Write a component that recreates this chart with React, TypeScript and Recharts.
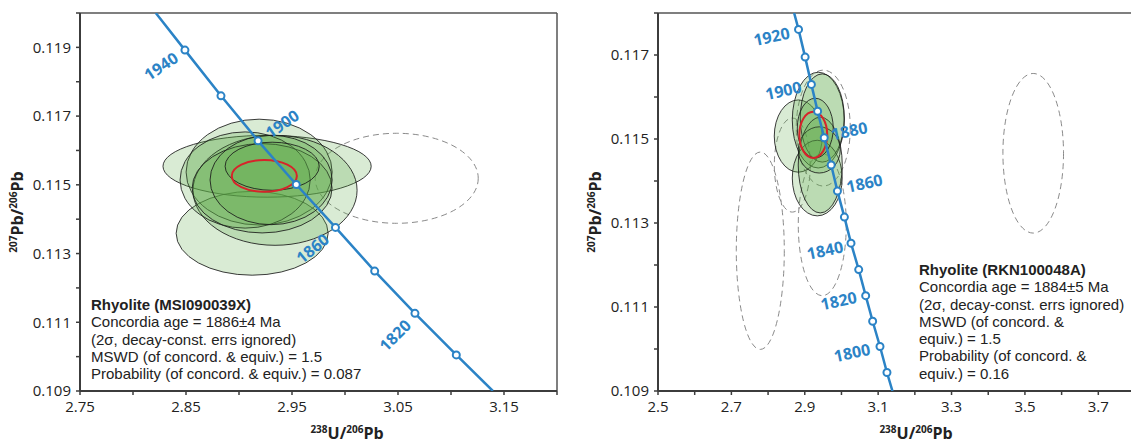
import React from "react";
import * as Recharts from "recharts";

const { ScatterChart, Scatter, XAxis, YAxis, ReferenceLine } = Recharts;
const usePlotArea = (Recharts as any).usePlotArea;

// concordia ages and their positions (238U/206Pb, 207Pb/206Pb)
const leftAges = [1940, 1920, 1900, 1880, 1860, 1840, 1820, 1800];
const leftConcX = [2.849, 2.883, 2.918, 2.954, 2.991, 3.028, 3.066, 3.105];
const leftConcY = [0.11892, 0.11759, 0.11628, 0.11501, 0.11376, 0.11249, 0.11126, 0.11005];
const leftLineEnds = [{ x: 2.8215, y: 0.12 }, { x: 3.1395, y: 0.109 }];

const rightAges = [1920, 1910, 1900, 1890, 1880, 1870, 1860, 1850, 1840, 1830, 1820, 1810, 1800, 1790];
const rightConcX = [2.883, 2.901, 2.918, 2.935, 2.953, 2.972, 2.989, 3.008, 3.026, 3.047, 3.066, 3.085, 3.105, 3.124];
const rightConcY = [0.11761, 0.11695, 0.1163, 0.11566, 0.11503, 0.11438, 0.11376, 0.11314, 0.11252, 0.11189, 0.11127, 0.11066, 0.11006, 0.10944];
const rightLineEnds = [{ x: 2.871, y: 0.118 }, { x: 3.139, y: 0.109 }];

// 2-sigma error ellipses: centre and half-axes in data units
const leftEllipses = [
  { x: 2.9124, y: 0.11359, rx: 0.0717, ry: 0.00122 },
  { x: 2.9265, y: 0.11554, rx: 0.0982, ry: 0.0009 },
  { x: 2.919, y: 0.11537, rx: 0.0689, ry: 0.00154 },
  { x: 2.934, y: 0.11484, rx: 0.0774, ry: 0.0016 },
  { x: 2.9058, y: 0.11514, rx: 0.0614, ry: 0.0014 },
  { x: 2.9218, y: 0.1149, rx: 0.066, ry: 0.0013 },
  { x: 2.9303, y: 0.11514, rx: 0.0576, ry: 0.0013 },
  { x: 2.9313, y: 0.11554, rx: 0.0444, ry: 0.0007 },
];
const leftRejected = [{ x: 3.0488, y: 0.11519, rx: 0.0769, ry: 0.00131 }];
const leftConcordiaAge = [{ x: 2.9239, y: 0.11526, rx: 0.0307, ry: 0.00046 }];

const rightEllipses = [
  { x: 2.8823, y: 0.11507, rx: 0.0654, ry: 0.00086 },
  { x: 2.9368, y: 0.11545, rx: 0.0708, ry: 0.00114 },
  { x: 2.9477, y: 0.1155, rx: 0.06, ry: 0.00105 },
  { x: 2.934, y: 0.11407, rx: 0.068, ry: 0.0009 },
  { x: 2.9422, y: 0.11438, rx: 0.06, ry: 0.00114 },
  { x: 2.9395, y: 0.11474, rx: 0.0572, ry: 0.00055 },
  { x: 2.9286, y: 0.11526, rx: 0.049, ry: 0.00071 },
];
const rightRejected = [
  { x: 2.7788, y: 0.11234, rx: 0.0654, ry: 0.00235 },
  { x: 2.9477, y: 0.11296, rx: 0.0654, ry: 0.00169 },
  { x: 3.5226, y: 0.11466, rx: 0.0826, ry: 0.0019 },
  { x: 2.9504, y: 0.11526, rx: 0.0736, ry: 0.00138 },
  { x: 2.866, y: 0.11438, rx: 0.049, ry: 0.00112 },
];
const rightConcordiaAge = [{ x: 2.9232, y: 0.1151, rx: 0.038, ry: 0.00055 }];

// axes
const leftXDomain = [2.75, 3.2];
const leftYDomain = [0.109, 0.12];
const leftXTicks = [2.75, 2.8, 2.85, 2.9, 2.95, 3.0, 3.05, 3.1, 3.15, 3.2];
const leftXLabels = [2.75, 2.85, 2.95, 3.05, 3.15];
const leftYTicks = [0.109, 0.11, 0.111, 0.112, 0.113, 0.114, 0.115, 0.116, 0.117, 0.118, 0.119, 0.12];
const leftYLabels = [0.109, 0.111, 0.113, 0.115, 0.117, 0.119];

const rightXDomain = [2.5, 3.8];
const rightYDomain = [0.109, 0.118];
const rightXTicks = [2.5, 2.6, 2.7, 2.8, 2.9, 3.0, 3.1, 3.2, 3.3, 3.4, 3.5, 3.6, 3.7, 3.8];
const rightXLabels = [2.5, 2.7, 2.9, 3.1, 3.3, 3.5, 3.7];
const rightYTicks = [0.109, 0.11, 0.111, 0.112, 0.113, 0.114, 0.115, 0.116, 0.117, 0.118];
const rightYLabels = [0.109, 0.111, 0.113, 0.115, 0.117];

const leftNotes = [
  "Concordia age = 1886±4 Ma",
  "(2σ, decay-const. errs ignored)",
  "MSWD (of concord. & equiv.) = 1.5",
  "Probability (of concord. & equiv.) = 0.087",
];
const rightNotes = [
  "Concordia age = 1884±5 Ma",
  "(2σ, decay-const. errs ignored)",
  "MSWD (of concord. &",
  "equiv.) = 1.5",
  "Probability (of concord. &",
  "equiv.) = 0.16",
];

const BLUE = "#2b83c6";
const INK = "#222";
const FONT = '"Open Sans", "Noto Sans", sans-serif';
const NOTE_FONT = '"Liberation Sans", Arial, sans-serif';

// where each age label sits relative to its marker (pixels, degrees)
const leftLabelPos: Record<number, { dx: number; dy: number; angle: number }> = {
  1940: { dx: -24, dy: 16, angle: -34 },
  1900: { dx: 24, dy: -17, angle: -35 },
  1860: { dx: -23, dy: 21, angle: -39 },
  1820: { dx: -20, dy: 22, angle: -45 },
};
const rightLabelPos: Record<number, { dx: number; dy: number; angle: number }> = {
  1920: { dx: -27, dy: 7, angle: -12 },
  1900: { dx: -28, dy: 6, angle: -12 },
  1880: { dx: 25, dy: -7, angle: -12 },
  1860: { dx: 27, dy: -8, angle: -12 },
  1840: { dx: -26, dy: 7, angle: -12 },
  1820: { dx: -27, dy: 5, angle: -12 },
  1800: { dx: -28, dy: 6, angle: -12 },
};

function EllipseShape(props: any) {
  const area = usePlotArea ? usePlotArea() : undefined;
  const { cx, cy, payload, xSpan, ySpan, kind } = props;
  if (!area || cx == null || cy == null) return null;
  const rx = (payload.rx / xSpan) * area.width;
  const ry = (payload.ry / ySpan) * area.height;
  if (kind === "dashed") {
    return <ellipse cx={cx} cy={cy} rx={rx} ry={ry} fill="none" stroke="#8a8a8a" strokeWidth={1} strokeDasharray="6 4" />;
  }
  if (kind === "age") {
    return <ellipse cx={cx} cy={cy} rx={rx} ry={ry} fill="none" stroke="#d7232a" strokeWidth={2} />;
  }
  return <ellipse cx={cx} cy={cy} rx={rx} ry={ry} fill="#5aaa46" fillOpacity={0.23} stroke="#1a1a1a" strokeOpacity={0.85} strokeWidth={1} />;
}

function AgeMarker(props: any) {
  const { cx, cy, payload, placement } = props;
  const p = placement[payload.age];
  return (
    <g>
      <circle cx={cx} cy={cy} r={3.5} fill="#fff" stroke={BLUE} strokeWidth={2} />
      {p && (
        <text
          x={cx + p.dx}
          y={cy + p.dy}
          transform={`rotate(${p.angle} ${cx + p.dx} ${cy + p.dy})`}
          textAnchor="middle"
          dominantBaseline="central"
          fontFamily={FONT}
          fontWeight="bold"
          fontSize={16}
          fill={BLUE}
        >
          {payload.age}
        </text>
      )}
    </g>
  );
}

function NoDot() {
  return <g />;
}

function RatioTitle({ x, y, top, bottom, rotate }: any) {
  return (
    <text
      x={x}
      y={y}
      textAnchor="middle"
      fontFamily={FONT}
      fontWeight="bold"
      fontSize={16}
      fill={INK}
      transform={rotate ? `rotate(-90 ${x} ${y})` : undefined}
    >
      <tspan fontSize={10} dy={-6}>{top[0]}</tspan>
      <tspan dy={6}>{top[1]}/</tspan>
      <tspan fontSize={10} dy={-6}>{bottom[0]}</tspan>
      <tspan dy={6}>{bottom[1]}</tspan>
    </text>
  );
}

function Panel(props: any) {
  const {
    width, marginRight, xDomain, yDomain, xTicks, xLabels, yTicks, yLabels,
    ellipses, rejected, ageEllipse, line, markers, placement, xTitleDx,
  } = props;
  const xSpan = xDomain[1] - xDomain[0];
  const ySpan = yDomain[1] - yDomain[0];
  const tickStyle = { fill: INK, fontSize: 15, fontFamily: FONT };
  return (
    <ScatterChart width={width} height={443} margin={{ top: 13, right: marginRight, bottom: 0, left: 0 }}>
      <XAxis
        type="number"
        dataKey="x"
        domain={xDomain}
        ticks={xTicks}
        interval={0}
        allowDataOverflow
        height={52}
        tickSize={4}
        tickMargin={6}
        tick={tickStyle}
        tickFormatter={(v: number) => (xLabels.includes(v) ? String(v) : "")}
        axisLine={{ stroke: "#3c3c3c", strokeWidth: 2 }}
        tickLine={{ stroke: "#3c3c3c", strokeWidth: 1.5 }}
        label={{
          content: ({ viewBox }: any) => (
            <RatioTitle x={viewBox.x + xTitleDx} y={viewBox.y + 48} top={["238", "U"]} bottom={["206", "Pb"]} />
          ),
        }}
      />
      <YAxis
        type="number"
        dataKey="y"
        domain={yDomain}
        ticks={yTicks}
        interval={0}
        allowDataOverflow
        width={80}
        tickSize={4}
        tickMargin={5}
        tick={tickStyle}
        tickFormatter={(v: number) => (yLabels.includes(v) ? String(v) : "")}
        axisLine={{ stroke: "#3c3c3c", strokeWidth: 2 }}
        tickLine={{ stroke: "#3c3c3c", strokeWidth: 1.5 }}
        label={{
          content: ({ viewBox }: any) => (
            <RatioTitle x={viewBox.x + 23} y={viewBox.y + 199} top={["207", "Pb"]} bottom={["206", "Pb"]} rotate />
          ),
        }}
      />
      <ReferenceLine y={yDomain[1]} stroke="#555" strokeWidth={1.5} />
      <ReferenceLine x={xDomain[1]} stroke="#555" strokeWidth={1.5} />
      <Scatter data={rejected} isAnimationActive={false} shape={<EllipseShape xSpan={xSpan} ySpan={ySpan} kind="dashed" />} />
      <Scatter data={ellipses} isAnimationActive={false} shape={<EllipseShape xSpan={xSpan} ySpan={ySpan} kind="solid" />} />
      <Scatter data={ageEllipse} isAnimationActive={false} shape={<EllipseShape xSpan={xSpan} ySpan={ySpan} kind="age" />} />
      <Scatter data={line} isAnimationActive={false} line={{ stroke: BLUE, strokeWidth: 2.5 }} shape={<NoDot />} />
      <Scatter data={markers} isAnimationActive={false} shape={<AgeMarker placement={placement} />} />
    </ScatterChart>
  );
}

function Notes({ left, top, title, lines }: any) {
  return (
    <div style={{ position: "absolute", left, top, fontFamily: NOTE_FONT, fontSize: 15, lineHeight: "17.25px", color: INK, whiteSpace: "nowrap" }}>
      <div style={{ fontWeight: "bold" }}>{title}</div>
      {lines.map((l: string) => (
        <div key={l}>{l}</div>
      ))}
    </div>
  );
}

export default function App() {
  const leftMarkers = leftAges.map((age, i) => ({ age, x: leftConcX[i], y: leftConcY[i] }));
  const rightMarkers = rightAges.map((age, i) => ({ age, x: rightConcX[i], y: rightConcY[i] }));
  const leftLine = [leftLineEnds[0], ...leftMarkers, leftLineEnds[1]];
  const rightLine = [rightLineEnds[0], ...rightMarkers, rightLineEnds[1]];
  return (
    <div style={{ position: "fixed", left: 0, top: 0, width: 1131, height: 443, overflow: "hidden", background: "#fff" }}>
      <div style={{ position: "absolute", left: 0, top: 0 }}>
        <Panel
          width={570}
          marginRight={13}
          xDomain={leftXDomain}
          yDomain={leftYDomain}
          xTicks={leftXTicks}
          xLabels={leftXLabels}
          yTicks={leftYTicks}
          yLabels={leftYLabels}
          ellipses={leftEllipses}
          rejected={leftRejected}
          ageEllipse={leftConcordiaAge}
          line={leftLine}
          markers={leftMarkers}
          placement={leftLabelPos}
          xTitleDx={267}
        />
      </div>
      <div style={{ position: "absolute", left: 578, top: 0 }}>
        <Panel
          width={580}
          marginRight={23}
          xDomain={rightXDomain}
          yDomain={rightYDomain}
          xTicks={rightXTicks}
          xLabels={rightXLabels}
          yTicks={rightYTicks}
          yLabels={rightYLabels}
          ellipses={rightEllipses}
          rejected={rightRejected}
          ageEllipse={rightConcordiaAge}
          line={rightLine}
          markers={rightMarkers}
          placement={rightLabelPos}
          xTitleDx={258}
        />
      </div>
      <Notes left={91} top={296} title="Rhyolite (MSI090039X)" lines={leftNotes} />
      <Notes left={919} top={261} title="Rhyolite (RKN100048A)" lines={rightNotes} />
    </div>
  );
}
